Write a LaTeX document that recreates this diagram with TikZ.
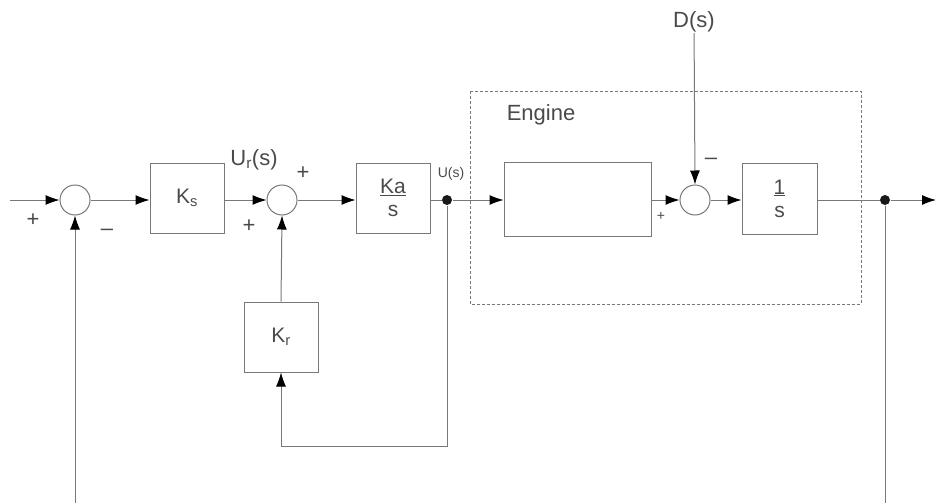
\documentclass[tikz,border=0pt]{standalone}
\usepackage{fontspec}
\setmainfont{Liberation Sans}
\usetikzlibrary{arrows.meta}
\definecolor{ln}{HTML}{787878}
\definecolor{tx}{HTML}{4A4A4A}
\begin{document}
\begin{tikzpicture}[x=1pt,y=-1pt,
  line width=1pt,
  conn/.style={draw=ln,-{Latex[length=14pt,width=10pt,color=black]}},
  plain/.style={draw=ln},
  blk/.style={draw=ln,rectangle,minimum width=74pt,minimum height=70pt,inner sep=0pt,text=tx,font=\fontsize{21}{25}\selectfont},
  sumc/.style={draw=ln,circle,minimum size=30pt,inner sep=0pt},
  dotn/.style={fill=black!90,circle,minimum size=10pt,inner sep=0pt},
  lab/.style={text=tx,font=\fontsize{22}{26}\selectfont,inner sep=0pt},
  slab/.style={text=tx,font=\fontsize{14}{16}\selectfont,inner sep=0pt}]
\useasboundingbox (0,0) rectangle (936,503);
% engine frame
\draw[ln,line width=0.9pt,dash pattern=on 3pt off 2pt] (470,91) rectangle (861,304);
\node[lab] (englab) at (541,115) {Engine};
% nodes
\node[sumc] (s1) at (75,200) {};
\node[blk] (ks) at (187,198) {K\textsubscript{s}};
\node[sumc] (s2) at (282,200) {};
\node[blk,align=center] (ka) at (393,198) {\underline{Ka}\\[-2pt]s};
\node[dotn] (d1) at (447,200) {};
\node[blk,minimum width=147pt,minimum height=74pt] (eng) at (577.5,199) {};
\node[sumc] (s3) at (695,200) {};
\node[blk,align=center,minimum width=75pt,minimum height=71pt] (inv) at (779.5,198.5) {\underline{1}\\[-2pt]s};
\node[dotn] (d2) at (885,200) {};
\node[blk] (kr) at (281,337) {K\textsubscript{r}};
\node[lab,anchor=south] (ds) at (694,33) {D(s)};
% free ends
\coordinate (in) at (10,200);
\coordinate (out) at (936,200);
\coordinate (fbl) at (75,503);
\coordinate (fbr) at (885,503);
\coordinate (c1) at (447,446);
\coordinate (c2) at (281,446);
% connectors
\draw[conn] (in) -- (s1.west);
\draw[conn] (s1.east) -- (ks.west |- s1.east);
\draw[conn] (ks.east |- s2.west) -- (s2.west);
\draw[conn] (s2.east) -- (ka.west |- s2.east);
\draw[plain] (ka.east |- d1) -- (d1);
\draw[conn] (d1) -- (eng.west |- d1);
\draw[conn] (eng.east |- s3.west) -- (s3.west);
\draw[conn] (s3.east) -- (inv.west |- s3.east);
\draw[plain] (inv.east |- d2) -- (d2);
\draw[conn] (d2) -- (out);
\draw[conn] (ds) -- (s3.north);
\draw[plain] (d2) -- (fbr);
\draw[conn] (fbl) -- (s1.south);
\draw[conn] (d1) -- (c1) -- (c2) -- (kr.south);
\draw[conn] (kr.north) -- (s2.south);
% signs and labels
\node[lab] (p1) at (33,220) {+};
\node[lab] (m1) at (107,232) {\textendash};
\node[lab] (ur) at (254,160) {U\textsubscript{r}(s)};
\node[lab] (p2) at (303,173) {+};
\node[lab] (p3) at (249,226) {+};
\node[slab] (us) at (451,174) {U(s)};
\node[lab] (m3) at (711,161) {\textendash};
\node[slab] (p4) at (661,216) {+};
\end{tikzpicture}
\end{document}
